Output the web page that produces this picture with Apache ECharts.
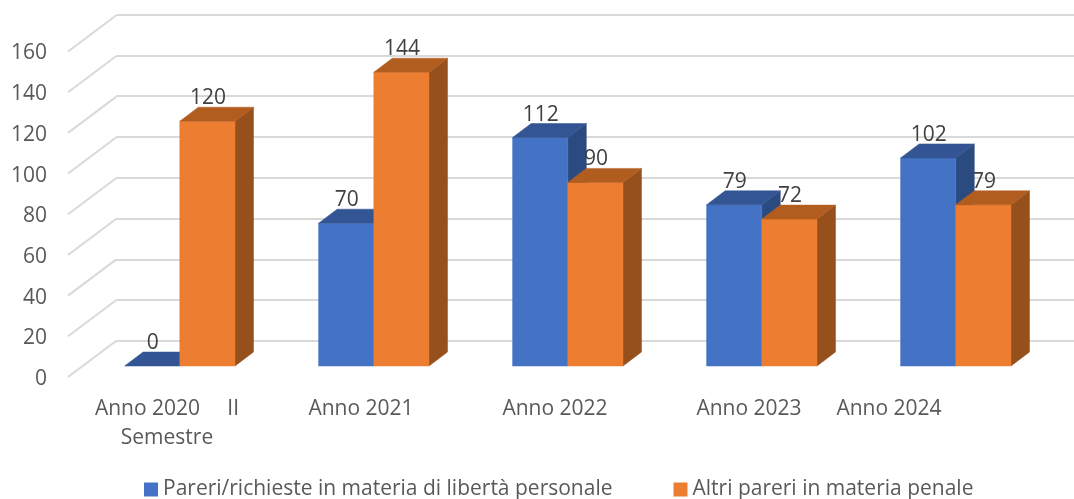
<!DOCTYPE html>
<html>
<head>
<meta charset="utf-8">
<style>html,body{margin:0;padding:0;background:#fff}#c{width:1074px;height:499px}</style>
<script src="https://cdn.jsdelivr.net/npm/echarts@6/dist/echarts.min.js"></script>
</head>
<body>
<div id="c"></div>
<script>
var categories = ['Anno 2020     II\nSemestre', 'Anno 2021', 'Anno 2022', 'Anno 2023', 'Anno 2024'];
var liberta = [0, 70, 112, 79, 102];
var altri = [120, 144, 90, 72, 79];
var yTicks = [0, 20, 40, 60, 80, 100, 120, 140, 160];
var seriesNames = ['Pareri/richieste in materia di libertà personale', 'Altri pareri in materia penale'];

var FONT = '"Open Sans"';
var FS = 21;
var DX = 18.5, DY = 14;
var BAR = 55.2;

function toData(arr) { return arr.map(function (v, i) { return [i, v]; }); }

function barRenderer(side, front, top, right) {
  return function (params, api) {
    var i = api.value(0), v = api.value(1);
    var t = api.coord([i, v]), b = api.coord([i, 0]);
    var x0 = side < 0 ? t[0] - BAR : t[0], x1 = x0 + BAR;
    var yt = t[1], yb = b[1];
    var kids = [];
    if (yb - yt > 0.01) {
      kids.push({ type: 'polygon', shape: { points: [[x1, yt], [x1 + DX, yt - DY], [x1 + DX, yb - DY], [x1, yb]] },
        style: { fill: right, stroke: right, lineWidth: 0.5 } });
      kids.push({ type: 'rect', shape: { x: x0, y: yt, width: BAR, height: yb - yt },
        style: { fill: front, stroke: front, lineWidth: 0.5 } });
    }
    kids.push({ type: 'polygon', shape: { points: [[x0, yt], [x0 + DX, yt - DY], [x1 + DX, yt - DY], [x1, yt]] },
      style: { fill: top, stroke: top, lineWidth: 0.5 } });
    kids.push({ type: 'text', z2: 100, style: { x: (x0 + x1) / 2 + 0.5, y: yt - 23, text: String(v), fill: '#404040',
      font: FS + 'px ' + FONT, align: 'center', verticalAlign: 'middle' } });
    return { type: 'group', children: kids };
  };
}

var option = {
  animation: false,
  backgroundColor: '#fff',
  textStyle: { fontFamily: FONT },
  grid: [
    { left: 70, width: 970, top: 53.5, height: 325.5 },
    { left: 116, right: 0, top: 14.5, height: 326.5 },
    { left: 82.8, width: 970, top: 39.6, height: 326.4 }
  ],
  xAxis: [
    { gridIndex: 0, type: 'category', data: categories,
      axisLine: { show: false }, axisTick: { show: false },
      axisLabel: { color: '#595959', fontSize: FS, fontFamily: FONT, margin: 16, lineHeight: 29, interval: 0,
        formatter: function (s) { return s === 'Anno 2024' ? '{p|' + s + '}' : s; },
        rich: { p: { color: '#595959', fontSize: FS, fontFamily: FONT, padding: [0, 108, 0, 0] } } } },
    { gridIndex: 1, type: 'value', min: 0, max: 1, show: false },
    { gridIndex: 2, type: 'category', data: categories, show: false }
  ],
  yAxis: [
    { gridIndex: 0, type: 'value', min: 0, max: 160, interval: 20,
      axisLine: { show: false }, axisTick: { show: false }, splitLine: { show: false },
      axisLabel: { color: '#595959', fontSize: FS, fontFamily: FONT, margin: 23 } },
    { gridIndex: 1, type: 'value', min: 0, max: 160, interval: 20,
      axisLine: { show: false }, axisTick: { show: false }, axisLabel: { show: false },
      splitLine: { show: true, lineStyle: { color: '#D9D9D9', width: 2 } } },
    { gridIndex: 2, type: 'value', min: 0, max: 160, interval: 20, show: false }
  ],
  legend: {
    left: 144, top: 479, padding: 0, itemWidth: 14, itemHeight: 14, itemGap: 61, icon: 'rect',
    data: seriesNames,
    textStyle: { color: '#595959', fontSize: FS, fontFamily: FONT }
  },
  series: [
    { type: 'custom', name: 'wall', xAxisIndex: 0, yAxisIndex: 0, silent: true, clip: false, z: 1,
      data: yTicks.map(function (v) { return [0, v]; }), encode: { x: 0, y: 1 },
      renderItem: function (params, api) {
        var c = api.coord([0, api.value(1)]);
        var x0 = params.coordSys.x - 2;
        return { type: 'line', shape: { x1: x0, y1: c[1] - 2, x2: x0 + 48, y2: c[1] - 38 },
          style: { stroke: '#D9D9D9', lineWidth: 2, fill: null } };
      } },
    { type: 'custom', name: seriesNames[0], xAxisIndex: 2, yAxisIndex: 2, clip: false, z: 3,
      itemStyle: { color: '#4472C4' }, data: toData(liberta), encode: { x: 0, y: 1 },
      renderItem: barRenderer(-1, '#4472C4', '#335593', '#2A4A80') },
    { type: 'custom', name: seriesNames[1], xAxisIndex: 2, yAxisIndex: 2, clip: false, z: 4,
      itemStyle: { color: '#ED7D31' }, data: toData(altri), encode: { x: 0, y: 1 },
      renderItem: barRenderer(1, '#ED7D31', '#B25D20', '#95501C') }
  ]
};
var chart = echarts.init(document.getElementById('c'), null, { renderer: 'canvas' });
chart.setOption(option);
</script>
</body>
</html>
